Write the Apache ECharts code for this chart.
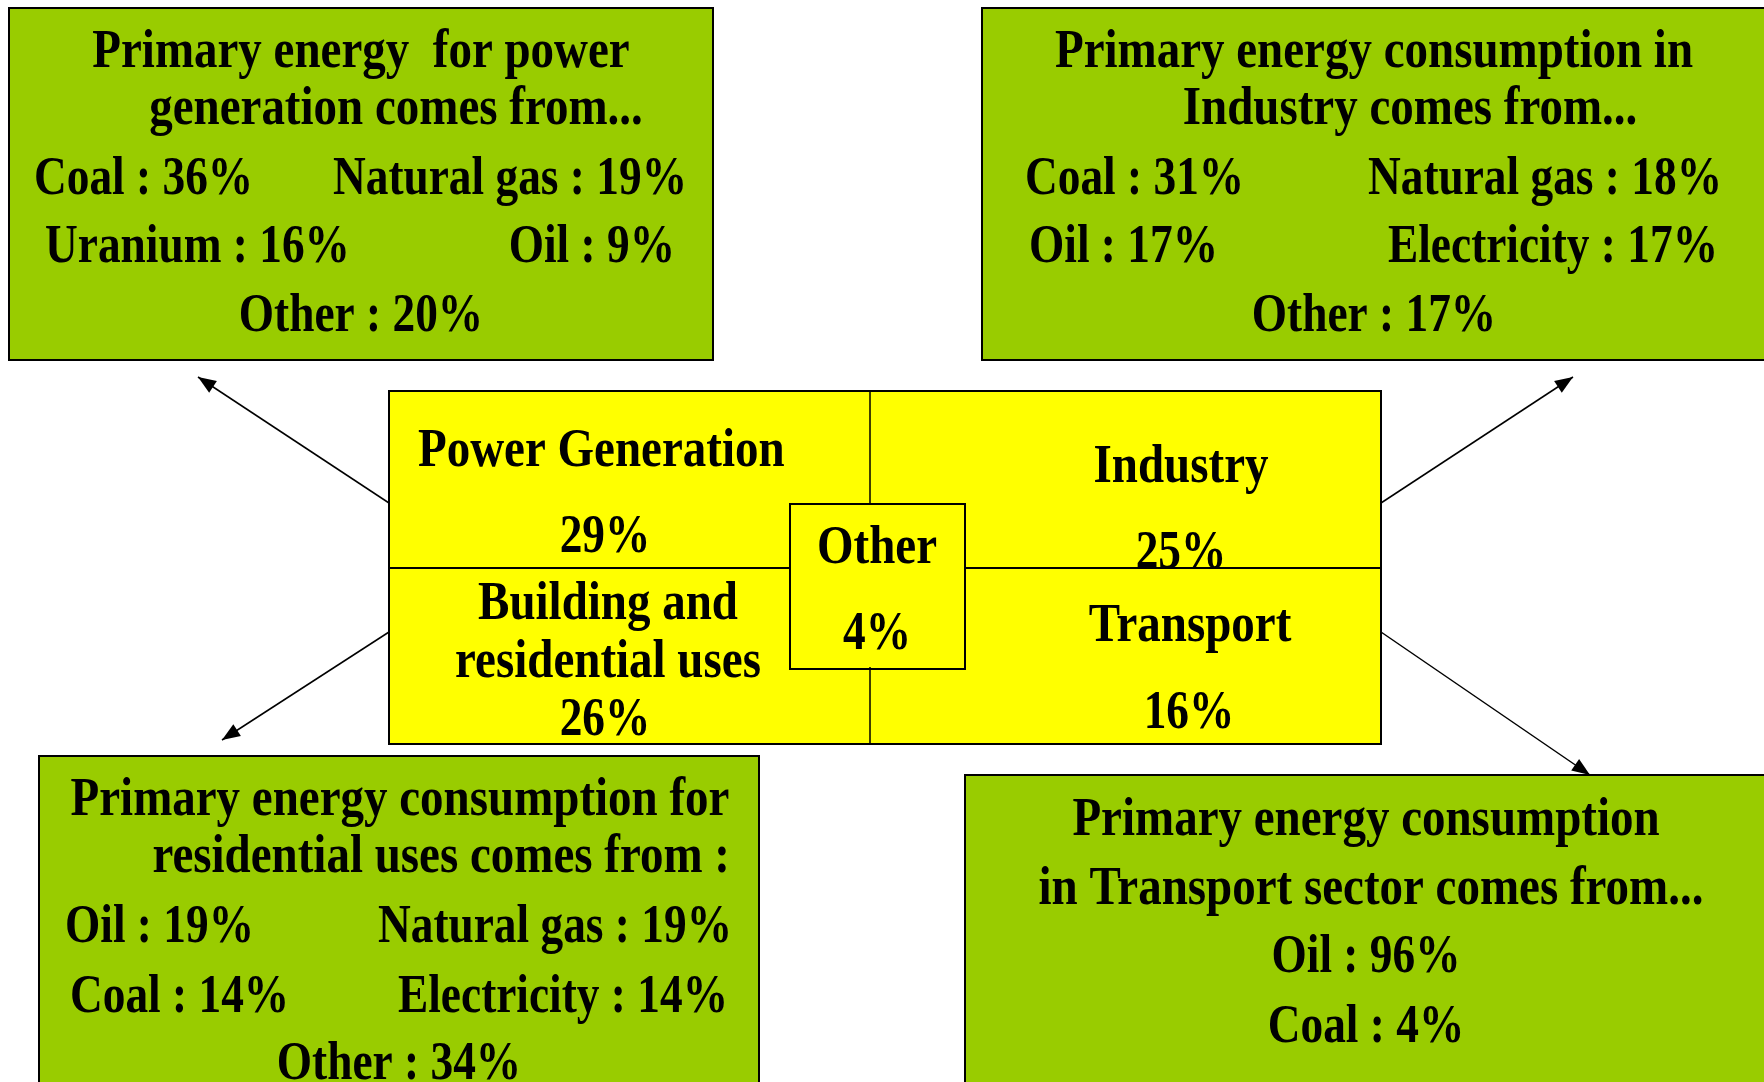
<!DOCTYPE html>
<html>
<head>
<meta charset="utf-8">
<script src="https://cdn.jsdelivr.net/npm/echarts@6/dist/echarts.min.js"></script>
<style>
html, body { margin: 0; padding: 0; background: #fff; }
#main { width: 1764px; height: 1082px; }
</style>
</head>
<body>
<div id="main"></div>
<script>
// data
var sectorNames = ['Power Generation', 'Industry', 'Building and\nresidential uses', 'Transport', 'Other'];
var sectorShares = [29, 25, 26, 16, 4];

var powerTitle = ['Primary energy  for power', 'generation comes from...'];
var powerSources = ['Coal', 'Natural gas', 'Uranium', 'Oil', 'Other'];
var powerShares = [36, 19, 16, 9, 20];

var industryTitle = ['Primary energy consumption in', 'Industry comes from...'];
var industrySources = ['Coal', 'Natural gas', 'Oil', 'Electricity', 'Other'];
var industryShares = [31, 18, 17, 17, 17];

var residentialTitle = ['Primary energy consumption for', 'residential uses comes from :'];
var residentialSources = ['Oil', 'Natural gas', 'Coal', 'Electricity', 'Other'];
var residentialShares = [19, 19, 14, 14, 34];

var transportTitle = ['Primary energy consumption', 'in Transport sector comes from...'];
var transportSources = ['Oil', 'Coal'];
var transportShares = [96, 4];

var GREEN = '#99cc00';
var YELLOW = '#ffff00';
var FONT = '"Liberation Serif", "DejaVu Serif", serif';

var chart = echarts.init(document.getElementById('main'));
var els = [];

// sx: horizontal squeeze, the original face is narrower than Times
function txt(s, x, y, align, sx) {
  els.push({
    type: 'text', x: x, y: y + 3, scaleX: sx || 0.87, z: 10,
    style: {
      text: s, fill: '#000', fontSize: 54, fontWeight: 'bold', fontFamily: FONT,
      align: align || 'center', verticalAlign: 'middle', lineHeight: 58
    }
  });
}
function box(x, y, w, h, fill, lw) {
  els.push({ type: 'rect', shape: { x: x, y: y, width: w, height: h }, z: 1,
    style: { fill: fill, stroke: '#000', lineWidth: lw || 2 } });
}
function line(x1, y1, x2, y2, lw, z) {
  els.push({ type: 'line', shape: { x1: x1, y1: y1, x2: x2, y2: y2 }, z: z || 20,
    style: { stroke: '#000', lineWidth: lw || 1.5 } });
}
function arrow(x1, y1, x2, y2) {
  line(x1, y1, x2, y2, 1.5, 5);
  var a = Math.atan2(y2 - y1, x2 - x1), L = 18, W = 7;
  var bx = x2 - L * Math.cos(a), by = y2 - L * Math.sin(a);
  els.push({ type: 'polygon', z: 6, shape: { points: [
    [x2, y2],
    [bx + W * Math.sin(a), by - W * Math.cos(a)],
    [bx - W * Math.sin(a), by + W * Math.cos(a)]
  ] }, style: { fill: '#000' } });
}
function item(names, vals, i) { return names[i] + ' : ' + vals[i] + '%'; }

// green panels
box(9, 8, 704, 352, GREEN);
box(982, 8, 800, 352, GREEN);
box(39, 756, 720, 340, GREEN);
box(965, 775, 820, 320, GREEN);

// arrows
arrow(389, 503, 198, 377);
arrow(1381, 503, 1573, 377);
arrow(389, 632, 222, 740);
arrow(1381, 632, 1590, 775);

// central panel
box(389, 391, 992, 353, YELLOW, 2);
els.push({ type: 'rect', z: 15, shape: { x: 790, y: 504, width: 175, height: 165 },
  style: { fill: YELLOW, stroke: '#000', lineWidth: 2 } });
line(389, 568, 790, 568, 2, 12);
line(965, 568, 1381, 568, 2, 12);
line(870, 391, 870, 504, 1.5, 12);
line(870, 667, 870, 744, 1.5, 16);

var V = 0.84;
// power panel text
txt(powerTitle[0], 361, 50);
txt(powerTitle[1], 396, 107);
txt(item(powerSources, powerShares, 0), 34, 177, 'left', V);
txt(item(powerSources, powerShares, 1), 687, 177, 'right', V);
txt(item(powerSources, powerShares, 2), 45, 245, 'left', V);
txt(item(powerSources, powerShares, 3), 675, 245, 'right', V);
txt(item(powerSources, powerShares, 4), 361, 314, 'center', V);

// industry panel text
txt(industryTitle[0], 1374, 50);
txt(industryTitle[1], 1410, 107);
txt(item(industrySources, industryShares, 0), 1025, 177, 'left', V);
txt(item(industrySources, industryShares, 1), 1722, 177, 'right', V);
txt(item(industrySources, industryShares, 2), 1029, 245, 'left', V);
txt(item(industrySources, industryShares, 3), 1718, 245, 'right', V);
txt(item(industrySources, industryShares, 4), 1374, 314, 'center', V);

// residential panel text
txt(residentialTitle[0], 400, 798);
txt(residentialTitle[1], 730, 855, 'right');
txt(item(residentialSources, residentialShares, 0), 65, 925, 'left', V);
txt(item(residentialSources, residentialShares, 1), 732, 925, 'right', V);
txt(item(residentialSources, residentialShares, 2), 70, 995, 'left', V);
txt(item(residentialSources, residentialShares, 3), 728, 995, 'right', V);
txt(item(residentialSources, residentialShares, 4), 399, 1062, 'center', V);

// transport panel text
txt(transportTitle[0], 1366, 818);
txt(transportTitle[1], 1371, 887);
txt(item(transportSources, transportShares, 0), 1366, 955, 'center', V);
txt(item(transportSources, transportShares, 1), 1366, 1025, 'center', V);

// sector labels
txt(sectorNames[0], 418, 449, 'left');
txt(sectorShares[0] + '%', 605, 535, 'center', V);
txt(sectorNames[1], 1181, 465);
txt(sectorShares[1] + '%', 1181, 551, 'center', V);
txt(sectorNames[2], 608, 631);
txt(sectorShares[2] + '%', 605, 718, 'center', V);
txt(sectorNames[3], 1190, 624);
txt(sectorShares[3] + '%', 1189, 711, 'center', V);
var otherEls = els.length;
txt(sectorNames[4], 877, 546);
txt(sectorShares[4] + '%', 877, 632, 'center', V);
els[otherEls].z = 30;
els[otherEls + 1].z = 30;

chart.setOption({ animation: false, graphic: { elements: els } });
</script>
</body>
</html>
